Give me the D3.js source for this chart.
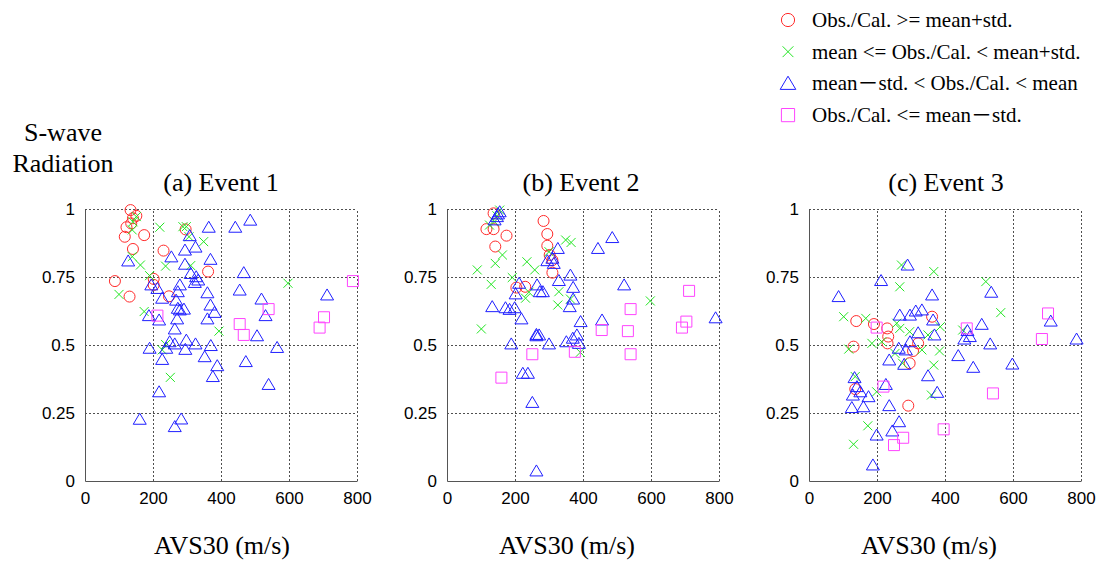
<!DOCTYPE html>
<html>
<head>
<meta charset="utf-8">
<script src="https://cdn.jsdelivr.net/npm/d3@7"></script>
<style>
body{margin:0;background:#fff;}
svg{display:block;}
.tick text{font-family:"Liberation Sans",Arial,sans-serif;font-size:17px;fill:#000;}
</style>
</head>
<body>
<svg id="chart" width="1105" height="565"></svg>
<script>
// categories
var events = ["(a) Event 1", "(b) Event 2", "(c) Event 3"];
var classes = ["Obs./Cal. >= mean+std.", "mean <= Obs./Cal. < mean+std.", "mean\uFF0Dstd. < Obs./Cal. < mean", "Obs./Cal. <= mean\uFF0Dstd."];
var xTicks = [0, 200, 400, 600, 800];
var yTicks = [0, 0.25, 0.5, 0.75, 1];
var yTickLabels = ["0", "0.25", "0.5", "0.75", "1"];

// Event 1  [AVS30, radiation]
var ev1High = [[134,0.996],[151,0.975],[141,0.966],[136,0.947],[122,0.933],[117,0.898],[174,0.904],[141,0.853],[231,0.847],[296,0.925],[362,0.770],[88,0.735],[202,0.743],[202,0.721],[131,0.678],[247,0.679]];
var ev1Upper = [[151,0.972],[141,0.953],[139,0.923],[220,0.933],[288,0.935],[298,0.935],[306,0.898],[349,0.880],[139,0.825],[163,0.794],[237,0.790],[311,0.792],[190,0.755],[597,0.727],[100,0.686],[174,0.623],[394,0.551],[237,0.502],[227,0.482],[251,0.381]];
var ev1Lower = [[486,0.959],[442,0.933],[364,0.933],[308,0.902],[325,0.860],[294,0.849],[254,0.824],[369,0.815],[127,0.809],[294,0.797],[311,0.763],[327,0.751],[323,0.730],[333,0.739],[467,0.766],[195,0.721],[213,0.708],[279,0.721],[273,0.696],[455,0.702],[360,0.692],[227,0.672],[519,0.669],[712,0.684],[268,0.665],[369,0.647],[273,0.635],[291,0.632],[279,0.629],[381,0.620],[188,0.608],[218,0.592],[271,0.596],[360,0.596],[531,0.608],[264,0.559],[506,0.534],[298,0.518],[249,0.512],[264,0.504],[325,0.504],[190,0.488],[239,0.488],[295,0.484],[370,0.498],[565,0.491],[227,0.447],[352,0.457],[473,0.439],[389,0.424],[376,0.384],[540,0.355],[218,0.328],[161,0.227],[283,0.228],[264,0.200]];
var ev1Low = [[788,0.735],[540,0.632],[703,0.602],[690,0.564],[455,0.577],[467,0.537],[213,0.608]];

// Event 2
var ev2High = [[137,0.984],[284,0.956],[116,0.926],[137,0.926],[175,0.902],[295,0.908],[142,0.862],[295,0.865],[302,0.831],[310,0.812],[310,0.766],[204,0.711],[230,0.714]];
var ev2Upper = [[155,0.996],[147,0.975],[125,0.941],[140,0.953],[349,0.886],[365,0.877],[300,0.843],[163,0.831],[142,0.800],[235,0.806],[89,0.776],[258,0.776],[192,0.748],[130,0.723],[329,0.696],[241,0.694],[231,0.672],[363,0.669],[598,0.662],[326,0.647],[101,0.559],[392,0.473]];
var ev2Lower = [[155,0.990],[150,0.982],[147,0.972],[140,0.960],[486,0.895],[444,0.855],[326,0.855],[295,0.810],[310,0.819],[314,0.800],[363,0.757],[329,0.737],[521,0.721],[265,0.721],[212,0.727],[371,0.712],[202,0.688],[273,0.696],[282,0.696],[371,0.669],[361,0.641],[133,0.641],[172,0.637],[199,0.637],[184,0.631],[219,0.596],[393,0.586],[456,0.592],[790,0.600],[263,0.539],[263,0.534],[271,0.537],[382,0.537],[370,0.525],[351,0.512],[388,0.506],[189,0.504],[300,0.504],[223,0.396],[238,0.396],[251,0.289],[263,0.037]];
var ev2Low = [[712,0.699],[540,0.632],[704,0.586],[691,0.564],[455,0.555],[532,0.551],[376,0.475],[251,0.466],[540,0.466],[160,0.380]];

// Event 3
var ev3High = [[139,0.588],[191,0.577],[230,0.561],[233,0.531],[231,0.506],[362,0.604],[321,0.506],[306,0.478],[131,0.494],[296,0.433],[136,0.338],[292,0.277]];
var ev3Upper = [[272,0.794],[367,0.770],[520,0.733],[267,0.714],[102,0.604],[167,0.598],[564,0.619],[258,0.580],[267,0.561],[296,0.549],[350,0.537],[386,0.567],[452,0.555],[185,0.506],[214,0.512],[117,0.485],[332,0.482],[384,0.478],[253,0.469],[275,0.433],[367,0.426],[136,0.384],[199,0.328],[360,0.316],[173,0.203],[131,0.135]];
var ev3Lower = [[290,0.794],[212,0.737],[87,0.678],[362,0.684],[536,0.694],[267,0.610],[297,0.610],[314,0.625],[332,0.629],[365,0.592],[711,0.588],[508,0.576],[321,0.545],[369,0.537],[466,0.553],[457,0.522],[473,0.531],[297,0.512],[533,0.504],[787,0.522],[264,0.488],[285,0.482],[236,0.445],[280,0.429],[439,0.461],[483,0.418],[598,0.430],[350,0.387],[134,0.380],[141,0.347],[151,0.328],[129,0.316],[175,0.310],[377,0.326],[226,0.355],[160,0.273],[126,0.270],[236,0.277],[265,0.218],[245,0.184],[199,0.169],[188,0.059]];
var ev3Low = [[703,0.616],[199,0.564],[464,0.561],[685,0.522],[219,0.347],[541,0.322],[396,0.190],[277,0.159],[250,0.132]];

var eventData = [[ev1High, ev1Upper, ev1Lower, ev1Low], [ev2High, ev2Upper, ev2Lower, ev2Low], [ev3High, ev3Upper, ev3Lower, ev3Low]];

//marker colours and shapes
var colors = ["#ff2a2a", "#22e622", "#1f1fff", "#ff44ff"];
var serif = "'Liberation Serif','Times New Roman','Noto Sans CJK JP',serif";
function markerPath(k, s){
	if(k==0){
		var r = 5.5*s;
		return "M"+(-r)+",0a"+r+","+r+" 0 1,0 "+(2*r)+",0a"+r+","+r+" 0 1,0 "+(-2*r)+",0Z";
	}
	if(k==1){
		var a = 4.5*s;
		return "M"+(-a)+","+(-a)+"L"+a+","+a+"M"+(-a)+","+a+"L"+a+","+(-a);
	}
	if(k==2){
		var w = 6.5*s, h = 5*s;
		return "M0,"+(-h-1*s)+"L"+w+","+h+"L"+(-w)+","+h+"Z";
	}
	var q = 5.5*s;
	return "M"+(-q)+","+(-q)+"H"+q+"V"+q+"H"+(-q)+"Z";
}

function serifText(sel, px){
	return sel.attr("font-family", serif)
		.style("font-family", serif)
		.style("font-size", px+"px")
		.attr("fill", "#000");
}

var svg = d3.select("#chart");
var size = 272;
var panelLeft = [85, 447, 809];
var panelTop = 209;
var titleX = [221, 581, 946];
var xLabelX = [222, 567, 929];

var x = d3.scaleLinear().domain([0, 800]).range([0, size]);
var y = d3.scaleLinear().domain([0, 1]).range([size, 0]);

events.forEach(function(name, p){
	var g = svg.append("g")
		.attr("transform", "translate("+panelLeft[p]+","+panelTop+")");

	//grid
	g.append("g")
		.attr("class", "grid")
		.call(d3.axisLeft(y).tickValues(yTicks.slice(1)).tickSize(-size).tickFormat(""))
		.call(function(a){ a.select(".domain").remove(); });
	g.append("g")
		.attr("class", "grid")
		.attr("transform", "translate(0,"+size+")")
		.call(d3.axisBottom(x).tickValues(xTicks.slice(1)).tickSize(-size).tickFormat(""))
		.call(function(a){ a.select(".domain").remove(); });
	g.selectAll(".grid line")
		.attr("stroke", "#222")
		.attr("stroke-width", 0.8)
		.attr("stroke-dasharray", "2,2");

	//axes with labels
	g.append("g")
		.call(d3.axisLeft(y).tickValues(yTicks).tickSize(0).tickPadding(10)
			.tickFormat(function(d, i){ return yTickLabels[i]; }))
		.call(function(a){ a.select(".domain").attr("stroke", "#555"); });
	g.append("g")
		.attr("transform", "translate(0,"+size+")")
		.call(d3.axisBottom(x).tickValues(xTicks).tickSize(0).tickPadding(11))
		.call(function(a){ a.select(".domain").attr("stroke", "#555"); });

	//points
	eventData[p].forEach(function(set, k){
		g.append("g")
			.selectAll("path")
			.data(set)
			.enter()
			.append("path")
			.attr("transform", function(d){ return "translate("+x(d[0])+","+y(d[1])+")"; })
			.attr("d", markerPath(k, 1))
			.attr("fill", "none")
			.attr("stroke", colors[k])
			.attr("stroke-width", 1);
	});

	serifText(svg.append("text"), 26)
		.attr("x", titleX[p])
		.attr("y", 191)
		.attr("text-anchor", "middle")
		.text(name);

	serifText(svg.append("text"), 26)
		.attr("x", xLabelX[p])
		.attr("y", 554)
		.attr("text-anchor", "middle")
		.text("AVS30 (m/s)");
});

//y title
serifText(svg.append("text"), 26)
	.attr("x", 63).attr("y", 141)
	.attr("text-anchor", "middle")
	.text("S-wave");
serifText(svg.append("text"), 26)
	.attr("x", 63).attr("y", 172)
	.attr("text-anchor", "middle")
	.text("Radiation");

//legend
var legend = svg.append("g").attr("transform", "translate(788,20)");
classes.forEach(function(c, k){
	var row = legend.append("g").attr("transform", "translate(0,"+(k*31.7)+")");
	row.append("path")
		.attr("d", markerPath(k, 1.2))
		.attr("fill", "none")
		.attr("stroke", colors[k]);
	serifText(row.append("text"), 21)
		.attr("x", 24)
		.attr("y", 7)
		.text(c);
});
</script>
</body>
</html>
